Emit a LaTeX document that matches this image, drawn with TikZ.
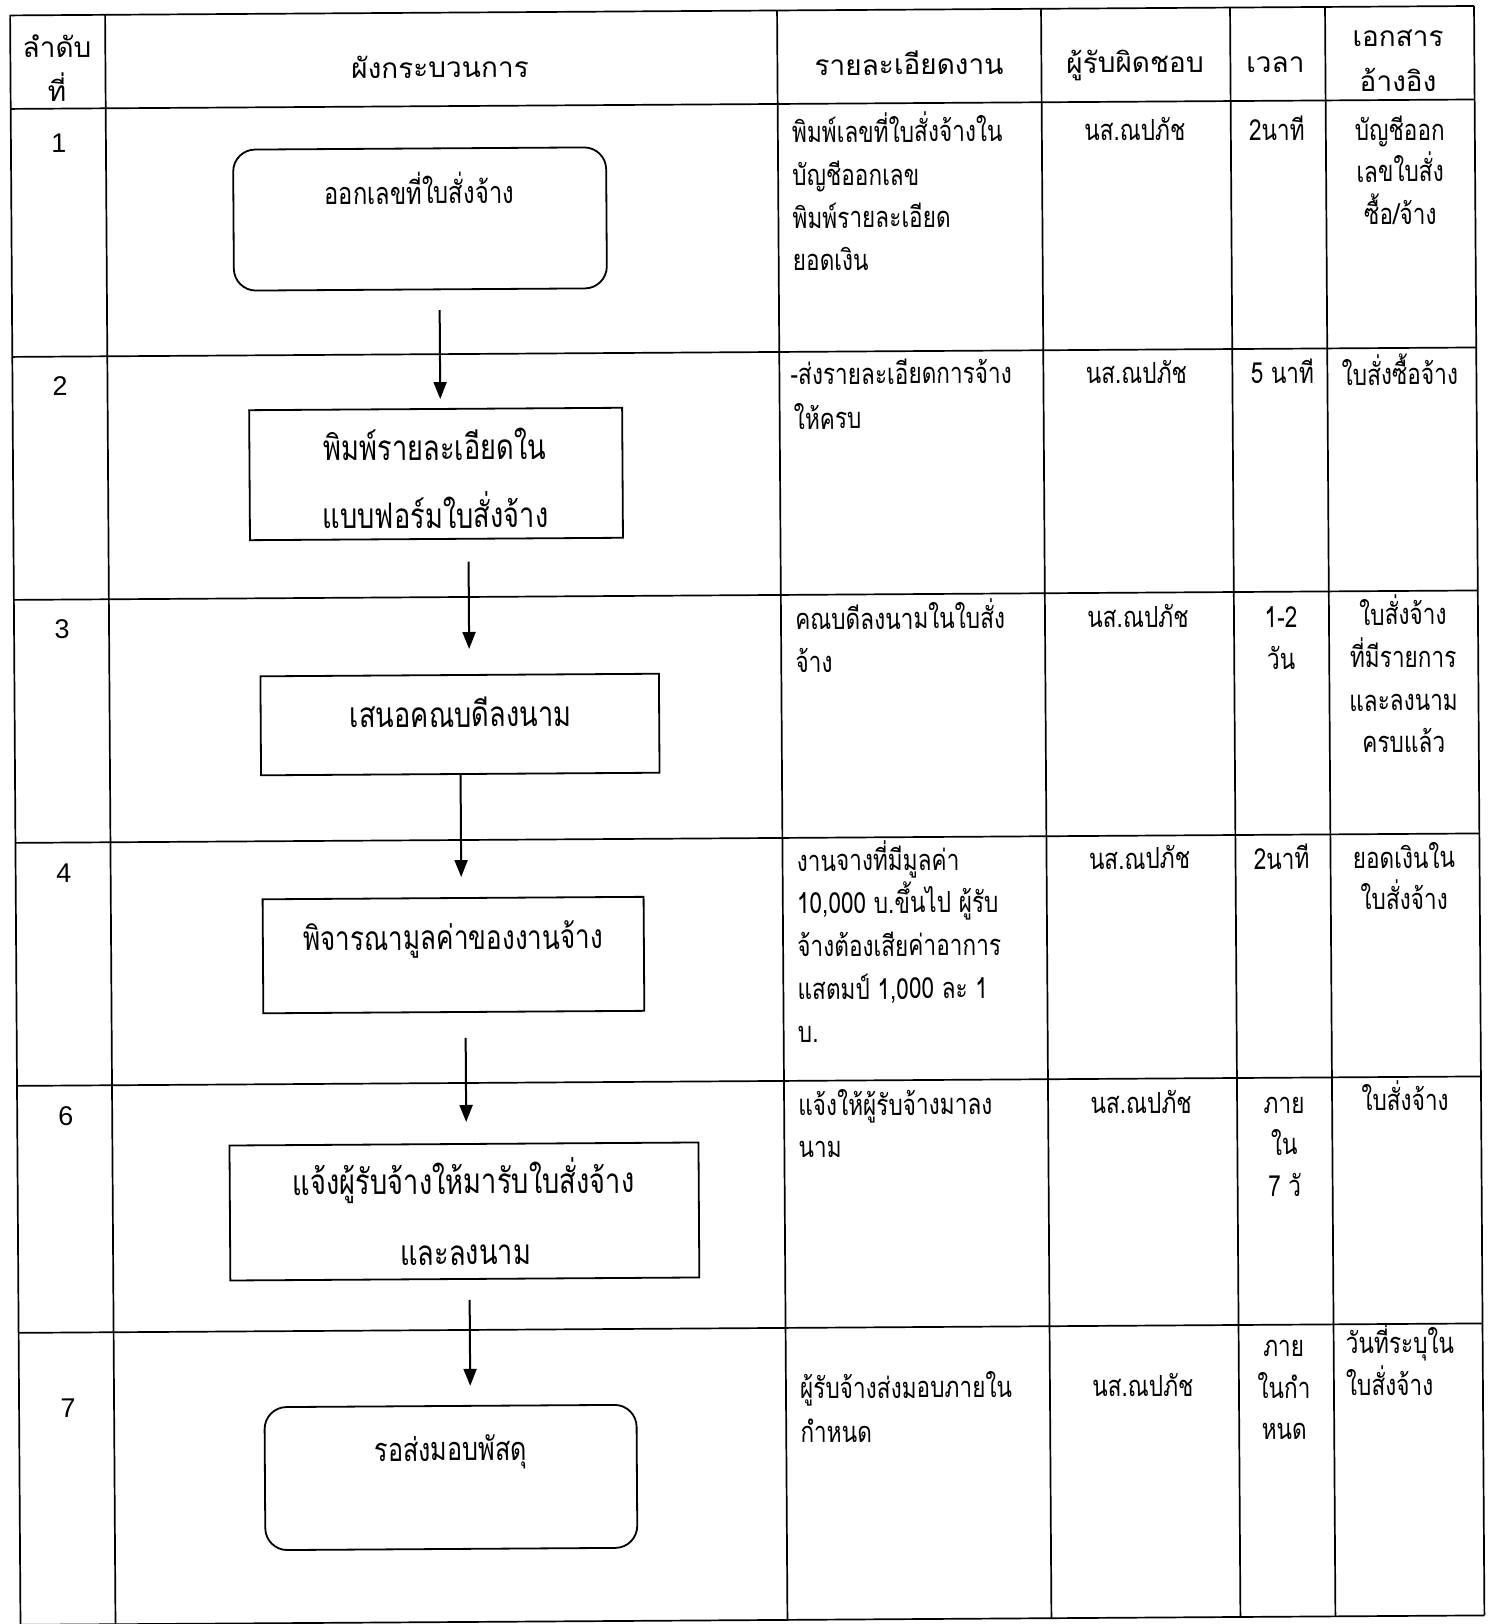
\documentclass[tikz,border=0pt]{standalone}
\usepackage{fontspec}
\newfontfamily\thai[Script=Thai,FakeStretch=0.78]{Loma}
\newfontfamily\thaihd[Script=Thai]{Loma}
\newfontfamily\numf{Liberation Sans}
\usetikzlibrary{arrows.meta,calc}
\newcommand\rowf{\numf\fontsize{27}{30}\selectfont}
\begin{document}
\begin{tikzpicture}[x=1pt,y=-1pt,
  grid/.style={line width=1.7pt},
  rbox/.style={draw,line width=1.8pt,rounded corners=22pt,inner sep=0pt},
  sbox/.style={draw,line width=1.8pt,inner sep=0pt},
  arr/.style={line width=2pt,-{Triangle[length=17pt,width=13pt]}},
  tw/.style={inner sep=0pt,anchor=mid west,font=\thai\fontsize{29pt}{30pt}\selectfont,yshift=-8.7pt},
  tc/.style={inner sep=0pt,anchor=mid,font=\thai\fontsize{29pt}{30pt}\selectfont,yshift=-8.7pt},
  hd/.style={inner sep=0pt,anchor=mid,font=\thaihd\fontsize{28pt}{30pt}\selectfont,yshift=-8.5pt},
  rn/.style={inner sep=0pt,anchor=center,font=\rowf},
  bt/.style={inner sep=0pt,anchor=mid,font=\thai\fontsize{#1pt}{#1pt}\selectfont,yshift={-0.28*#1pt}}]
\useasboundingbox (0,0) rectangle (1493,1624);
\fill[white] (0,0) rectangle (1493,1624);
\begin{scope}[rotate=0.37,transform shape]
% table grid
\foreach \yy in {15.5,109,357,600,843,1086,1333,1625}
  \draw[grid] (10,\yy) -- (1474,\yy);
\foreach \xx in {10,105} \draw[grid] (\xx,15.5) -- (\xx,1660);
\foreach \xx in {777,1041,1230,1325,1474} \draw[grid] (\xx,15.5) -- (\xx,1625);

% header
\node[hd] (h1a) at (56.7,47) {ลำดับ};
\node[hd] (h1b) at (56.4,91) {ที่};
\node[hd] (h2) at (439.6,70) {ผังกระบวนการ};
\node[hd] (h3) at (908.6,70) {รายละเอียดงาน};
\node[hd] (h4) at (1134.6,69.4) {ผู้รับผิดชอบ};
\node[hd] (h5) at (1275,70) {เวลา};
\node[hd] (h6a) at (1397.8,45) {เอกสาร};
\node[hd] (h6b) at (1397.5,90) {อ้างอิง};

% row numbers
\node[rn] (r1) at (58,143.4) {1};
\node[rn] (r2) at (57.5,386.4) {2};
\node[rn] (r3) at (58,630) {3};
\node[rn] (r4) at (58.3,873.4) {4};
\node[rn] (r6) at (58.7,1116.4) {6};
\node[rn] (r7) at (59,1408.5) {7};

% flow boxes
\node[rbox,minimum width=373pt,minimum height=141pt] (n1) at (418.6,221.7) {};
\node[sbox,minimum width=373pt,minimum height=130pt] (n2) at (433,476.8) {};
\node[sbox,minimum width=398.5pt,minimum height=99pt] (n3) at (455.3,727.5) {};
\node[sbox,minimum width=381pt,minimum height=114pt] (n4) at (447.3,958) {};
\node[sbox,minimum width=469pt,minimum height=135pt] (n5) at (456.6,1214.5) {};
\node[rbox,minimum width=372pt,minimum height=143pt] (n6) at (441.4,1480.4) {};

% box texts
\node[bt=30.5] (t1) at (418,196) {ออกเลขที่ใบสั่งจ้าง};
\node[bt=35] (t2a) at (432,451) {พิมพ์รายละเอียดใน};
\node[bt=35] (t2b) at (432,519) {แบบฟอร์มใบสั่งจ้าง};
\node[bt=35] (t3) at (456,718) {เสนอคณบดีลงนาม};
\node[bt=33.5] (t4) at (447,941) {พิจารณามูลค่าของงานจ้าง};
\node[bt=35] (t5a) at (456,1185) {แจ้งผู้รับจ้างให้มารับใบสั่งจ้าง};
\node[bt=35] (t5b) at (457.5,1256) {และลงนาม};
\node[bt=32.4] (t6) at (441.5,1452.5) {รอส่งมอบพัสดุ};

% arrows
\draw[arr] ($(n1.south)+(19.1,20)$) -- ($(n2.north)+(4.7,-9)$);
\draw[arr] ($(n2.south)+(32,22)$) -- ($(n3.north)+(9.7,-25)$);
\draw[arr] ($(n3.south)+(0.3,0)$) -- ($(n4.north)+(8.3,-20)$);
\draw[arr] ($(n4.south)+(11.7,25)$) -- ($(n5.north)+(2.4,-21)$);
\draw[arr] ($(n5.south)+(4.7,20)$) -- ($(n6.north)+(19.9,-19)$);

% details column
\node[tw] (d1a) at (791,137) {พิมพ์เลขที่ใบสั่งจ้างใน};
\node[tw] (d1b) at (791,180) {บัญชีออกเลข};
\node[tw] (d1c) at (791,222.6) {พิมพ์รายละเอียด};
\node[tw] (d1d) at (791,265) {ยอดเงิน};
\node[tw] (d2a) at (788,379) {-ส่งรายละเอียดการจ้าง};
\node[tw] (d2b) at (791,423.5) {ให้ครบ};
\node[tw] (d3a) at (791,624) {คณบดีลงนามในใบสั่ง};
\node[tw] (d3b) at (791,666.5) {จ้าง};
\node[tw] (d4a) at (791,865.5) {งานจางที่มีมูลค่า};
\node[tw] (d4b) at (791,908) {10,000 บ.ขึ้นไป ผู้รับ};
\node[tw] (d4c) at (791,951) {จ้างต้องเสียค่าอาการ};
\node[tw] (d4d) at (791,994) {แสตมป์ 1,000 ละ 1};
\node[tw] (d4e) at (791,1036.5) {บ.};
\node[tw] (d6a) at (791,1110) {แจ้งให้ผู้รับจ้างมาลง};
\node[tw] (d6b) at (791,1152) {นาม};
\node[tw] (d7a) at (791,1393) {ผู้รับจ้างส่งมอบภายใน};
\node[tw] (d7b) at (791,1437) {กำหนด};

% responsible column
\node[tc] (p1) at (1134,137) {นส.ณปภัช};
\node[tc] (p2) at (1134,380) {นส.ณปภัช};
\node[tc] (p3) at (1134,624) {นส.ณปภัช};
\node[tc] (p4) at (1134,865.5) {นส.ณปภัช};
\node[tc] (p6) at (1134,1110) {นส.ณปภัช};
\node[tc] (p7) at (1134,1393) {นส.ณปภัช};

% time column
\node[tc] (m1) at (1276,138) {2นาที};
\node[tc] (m2) at (1280,381) {5 นาที};
\node[tc] (m3a) at (1277,625) {1-2};
\node[tc] (m3b) at (1277,666.5) {วัน};
\node[tc] (m4) at (1276,866.5) {2นาที};
\node[tc] (m6a) at (1277,1111) {ภาย};
\node[tc] (m6b) at (1277,1152.4) {ใน};
\node[tc] (m6c) at (1277,1194) {7 วั};
\node[tc] (m7a) at (1275,1354) {ภาย};
\node[tc] (m7b) at (1275,1395.7) {ในกำ};
\node[tc] (m7c) at (1275,1437) {หนด};

% reference documents column
\node[tc] (g1a) at (1399,138.5) {บัญชีออก};
\node[tc] (g1b) at (1399,180) {เลขใบสั่ง};
\node[tc] (g1c) at (1399,222.4) {ซื้อ/จ้าง};
\node[tc] (g2) at (1397.5,383) {ใบสั่งซื้อจ้าง};
\node[tc] (g3a) at (1399,623) {ใบสั่งจ้าง};
\node[tc] (g3b) at (1399,665.5) {ที่มีรายการ};
\node[tc] (g3c) at (1399,709) {และลงนาม};
\node[tc] (g3d) at (1399,750.4) {ครบแล้ว};
\node[tc] (g4a) at (1398.4,866.4) {ยอดเงินใน};
\node[tc] (g4b) at (1398.4,907.8) {ใบสั่งจ้าง};
\node[tc] (g6) at (1398,1108.7) {ใบสั่งจ้าง};
\node[tw] (g7a) at (1337,1351.7) {วันที่ระบุใน};
\node[tw] (g7b) at (1337,1393.8) {ใบสั่งจ้าง};
\end{scope}
\end{tikzpicture}
\end{document}
